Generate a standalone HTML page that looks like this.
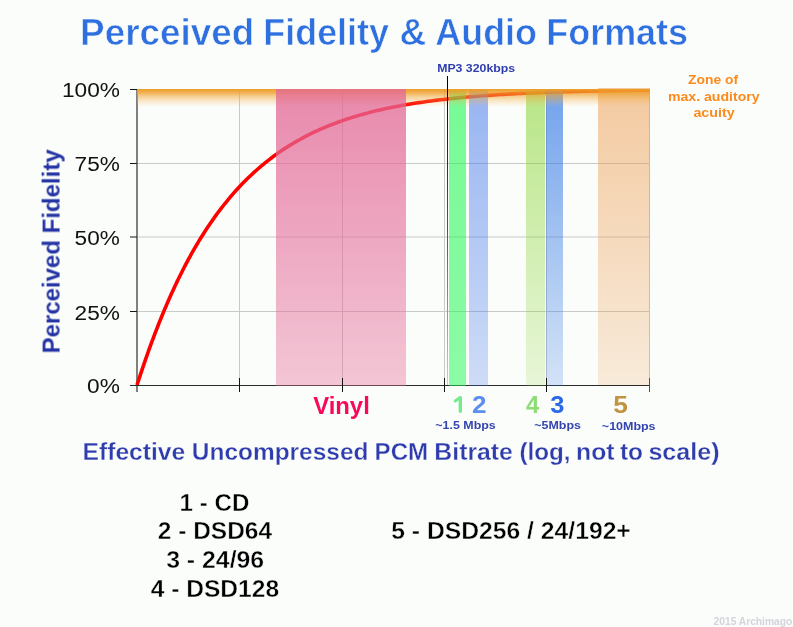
<!DOCTYPE html>
<html><head><meta charset="utf-8">
<style>
html,body{margin:0;padding:0;background:#fbfdfa;}
body{width:793px;height:627px;overflow:hidden;}
svg{display:block;font-family:"Liberation Sans",sans-serif;}
text{will-change:transform;}
</style></head>
<body>
<svg width="793" height="627" viewBox="0 0 793 627">
<defs>
<linearGradient id="gOr" x1="0" y1="0" x2="0" y2="1">
<stop offset="0" stop-color="#ee9e28" stop-opacity="1"/>
<stop offset="0.2" stop-color="#ee9e28" stop-opacity="0.8"/>
<stop offset="0.4" stop-color="#f0a634" stop-opacity="0.55"/>
<stop offset="0.65" stop-color="#f2ae44" stop-opacity="0.3"/>
<stop offset="0.9" stop-color="#f4b860" stop-opacity="0.08"/>
<stop offset="1" stop-color="#f4b860" stop-opacity="0"/>
</linearGradient>
<linearGradient id="gPink" x1="0" y1="0" x2="0" y2="1">
<stop offset="0" stop-color="#e36896" stop-opacity="0.78"/>
<stop offset="1" stop-color="#e56b99" stop-opacity="0.38"/>
</linearGradient>
<linearGradient id="gG1" x1="0" y1="0" x2="0" y2="1">
<stop offset="0" stop-color="#1ef852" stop-opacity="0.6"/>
<stop offset="1" stop-color="#1ef852" stop-opacity="0.5"/>
</linearGradient>
<linearGradient id="gB2" x1="0" y1="0" x2="0" y2="1">
<stop offset="0" stop-color="#4678eb" stop-opacity="0.55"/>
<stop offset="1" stop-color="#4678eb" stop-opacity="0.25"/>
</linearGradient>
<linearGradient id="gG4" x1="0" y1="0" x2="0" y2="1">
<stop offset="0" stop-color="#82d228" stop-opacity="0.55"/>
<stop offset="1" stop-color="#82d228" stop-opacity="0.16"/>
</linearGradient>
<linearGradient id="gB3" x1="0" y1="0" x2="0" y2="1">
<stop offset="0" stop-color="#3278e6" stop-opacity="0.68"/>
<stop offset="1" stop-color="#3278e6" stop-opacity="0.2"/>
</linearGradient>
<linearGradient id="gO5" x1="0" y1="0" x2="0" y2="1">
<stop offset="0" stop-color="#eb9646" stop-opacity="0.5"/>
<stop offset="1" stop-color="#eb9646" stop-opacity="0.18"/>
</linearGradient>
<linearGradient id="gMP3" x1="0" y1="0" x2="0" y2="1">
<stop offset="0" stop-color="#000"/>
<stop offset="0.5" stop-color="#555"/>
<stop offset="1" stop-color="#ccc"/>
</linearGradient>
<clipPath id="cpC"><rect x="130" y="89" width="530" height="310"/></clipPath>
</defs>
<rect x="0" y="0" width="793" height="627" fill="#fbfdfa"/>
<g stroke="#c9c9c9" stroke-width="1">
<line x1="137" y1="163.5" x2="650" y2="163.5"/>
<line x1="137" y1="237" x2="650" y2="237"/>
<line x1="137" y1="311.5" x2="650" y2="311.5"/>
<line x1="239.5" y1="89" x2="239.5" y2="385"/>
<line x1="342.5" y1="89" x2="342.5" y2="385"/>
<line x1="444.5" y1="89" x2="444.5" y2="385"/>
<line x1="546.5" y1="89" x2="546.5" y2="385"/>
<line x1="649.5" y1="89" x2="649.5" y2="385"/>
</g>
<line x1="137" y1="89" x2="137" y2="392" stroke="#808080" stroke-width="2"/>
<path d="M137.0,385.00 L138.0,381.96 L139.0,378.91 L140.0,375.88 L141.0,372.86 L142.0,369.88 L143.0,366.91 L144.0,363.98 L145.0,361.07 L146.0,358.19 L147.0,355.33 L148.0,352.50 L149.0,349.70 L150.0,346.93 L151.0,344.19 L152.0,341.47 L153.0,338.78 L154.0,336.11 L155.0,333.48 L156.0,330.87 L157.0,328.28 L158.0,325.73 L159.0,323.19 L160.0,320.69 L161.0,318.21 L162.0,315.76 L163.0,313.33 L164.0,310.92 L165.0,308.54 L166.0,306.19 L167.0,303.86 L168.0,301.56 L169.0,299.27 L170.0,297.02 L171.0,294.78 L172.0,292.57 L173.0,290.38 L174.0,288.22 L175.0,286.08 L176.0,283.96 L177.0,281.86 L178.0,279.79 L179.0,277.73 L180.0,275.70 L181.0,273.69 L182.0,271.70 L183.0,269.73 L184.0,267.79 L185.0,265.86 L186.0,263.95 L187.0,262.07 L188.0,260.20 L189.0,258.35 L190.0,256.53 L191.0,254.72 L192.0,252.93 L193.0,251.16 L194.0,249.41 L195.0,247.68 L196.0,245.97 L197.0,244.27 L198.0,242.59 L199.0,240.93 L200.0,239.29 L203.0,234.47 L206.0,229.80 L209.0,225.28 L212.0,220.90 L215.0,216.66 L218.0,212.56 L221.0,208.59 L224.0,204.74 L227.0,201.02 L230.0,197.41 L233.0,193.92 L236.0,190.54 L239.0,187.27 L242.0,184.10 L245.0,181.03 L248.0,178.07 L251.0,175.19 L254.0,172.41 L257.0,169.72 L260.0,167.11 L263.0,164.59 L266.0,162.15 L269.0,159.79 L272.0,157.50 L275.0,155.29 L278.0,153.14 L281.0,151.07 L284.0,149.06 L287.0,147.12 L290.0,145.24 L293.0,143.42 L296.0,141.66 L299.0,139.96 L302.0,138.31 L305.0,136.71 L308.0,135.16 L311.0,133.67 L314.0,132.22 L317.0,130.82 L320.0,129.47 L323.0,128.15 L326.0,126.88 L329.0,125.66 L332.0,124.47 L335.0,123.32 L338.0,122.20 L341.0,121.13 L344.0,120.08 L347.0,119.08 L350.0,118.10 L353.0,117.15 L356.0,116.24 L359.0,115.36 L362.0,114.50 L365.0,113.67 L368.0,112.87 L371.0,112.10 L374.0,111.34 L377.0,110.62 L380.0,109.92 L383.0,109.24 L386.0,108.58 L389.0,107.94 L392.0,107.33 L395.0,106.73 L398.0,106.15 L401.0,105.60 L404.0,105.06 L407.0,104.53 L410.0,104.03 L413.0,103.54 L416.0,103.07 L419.0,102.61 L422.0,102.16 L425.0,101.74 L428.0,101.32 L431.0,100.92 L434.0,100.53 L437.0,100.16 L440.0,99.79 L443.0,99.44 L446.0,99.10 L449.0,98.77 L452.0,98.45 L455.0,98.15 L458.0,97.85 L461.0,97.56 L464.0,97.28 L467.0,97.01 L470.0,96.75 L473.0,96.50 L476.0,96.25 L479.0,96.02 L482.0,95.79 L485.0,95.57 L488.0,95.35 L491.0,95.14 L494.0,94.94 L497.0,94.75 L500.0,94.56 L503.0,94.38 L506.0,94.21 L509.0,94.04 L512.0,93.87 L515.0,93.71 L518.0,93.56 L521.0,93.41 L524.0,93.27 L527.0,93.13 L530.0,92.99 L533.0,92.86 L536.0,92.74 L539.0,92.61 L542.0,92.50 L545.0,92.38 L548.0,92.27 L551.0,92.16 L554.0,92.06 L557.0,91.96 L560.0,91.86 L563.0,91.77 L566.0,91.68 L569.0,91.59 L572.0,91.51 L575.0,91.43 L578.0,91.35 L581.0,91.27 L584.0,91.19 L587.0,91.12 L590.0,91.05 L593.0,90.99 L596.0,90.92 L599.0,90.86 L602.0,90.80 L605.0,90.74 L608.0,90.68 L611.0,90.63 L614.0,90.57 L617.0,90.52 L620.0,90.47 L623.0,90.42 L626.0,90.38 L629.0,90.33 L632.0,90.29 L635.0,90.25 L638.0,90.21 L641.0,90.17 L644.0,90.13 L647.0,90.09 L649.7,90.06" fill="none" stroke="#ff0000" stroke-width="3.6" clip-path="url(#cpC)" stroke-linejoin="round"/>
<line x1="130" y1="385.5" x2="650" y2="385.5" stroke="#2a2a2a" stroke-width="1"/>
<rect x="449" y="89" width="17" height="297" fill="url(#gG1)"/>
<rect x="469" y="89" width="19" height="297" fill="url(#gB2)"/>
<rect x="526" y="89" width="19" height="297" fill="url(#gG4)"/>
<rect x="546" y="89" width="17" height="297" fill="url(#gB3)"/>
<rect x="598" y="88" width="52" height="297" fill="url(#gO5)"/>
<rect x="137" y="89" width="513" height="18" fill="url(#gOr)"/>
<rect x="276" y="89" width="130" height="297" fill="url(#gPink)"/>
<rect x="447" y="76" width="1" height="309" fill="url(#gMP3)"/>
<g stroke="#141414" stroke-width="1">
<line x1="130" y1="89.5" x2="137" y2="89.5"/>
<line x1="130" y1="163.5" x2="137" y2="163.5"/>
<line x1="130" y1="237" x2="137" y2="237"/>
<line x1="130" y1="311.5" x2="137" y2="311.5"/>
<line x1="239.5" y1="378" x2="239.5" y2="392"/>
<line x1="342.5" y1="378" x2="342.5" y2="392"/>
<line x1="444.5" y1="378" x2="444.5" y2="392"/>
<line x1="546.5" y1="378" x2="546.5" y2="392"/>
<line x1="649.5" y1="378" x2="649.5" y2="392" stroke="#505050"/>
</g>
<g fill="none" stroke="#78ea8e" stroke-linecap="round"><path d="M460.3,397.6 V411.3" stroke-width="3.4"/><path d="M459.8,397.7 L455.2,400.9" stroke-width="3.1"/></g>
<text transform="translate(59.6,353.4) rotate(-90)" font-size="24.2" font-weight="bold" fill="#2434a4" textLength="204" lengthAdjust="spacingAndGlyphs">Perceived Fidelity</text>

<text x="80.12" y="45.10" font-size="37.00" font-weight="bold" fill="#2e70e0" stroke="#fbfdfa" stroke-width="0.6" paint-order="fill" textLength="174.13" lengthAdjust="spacingAndGlyphs">Perceived</text>
<text x="263.35" y="45.10" font-size="37.00" font-weight="bold" fill="#2e70e0" stroke="#fbfdfa" stroke-width="0.6" paint-order="fill" textLength="125.64" lengthAdjust="spacingAndGlyphs">Fidelity</text>
<text x="399.60" y="45.10" font-size="37.00" font-weight="bold" fill="#2e70e0" stroke="#fbfdfa" stroke-width="0.6" paint-order="fill" textLength="26.74" lengthAdjust="spacingAndGlyphs">&amp;</text>
<text x="435.34" y="45.10" font-size="37.00" font-weight="bold" fill="#2e70e0" stroke="#fbfdfa" stroke-width="0.6" paint-order="fill" textLength="101.67" lengthAdjust="spacingAndGlyphs">Audio</text>
<text x="546.23" y="45.10" font-size="37.00" font-weight="bold" fill="#2e70e0" stroke="#fbfdfa" stroke-width="0.6" paint-order="fill" textLength="141.84" lengthAdjust="spacingAndGlyphs">Formats</text>
<text x="61.92" y="96.86" font-size="19.50" font-weight="normal" fill="#111" textLength="58.07" lengthAdjust="spacingAndGlyphs">100%</text>
<text x="74.64" y="170.92" font-size="19.50" font-weight="normal" fill="#111" textLength="45.30" lengthAdjust="spacingAndGlyphs">75%</text>
<text x="74.59" y="244.64" font-size="19.50" font-weight="normal" fill="#111" textLength="45.22" lengthAdjust="spacingAndGlyphs">50%</text>
<text x="74.60" y="319.84" font-size="19.50" font-weight="normal" fill="#111" textLength="45.35" lengthAdjust="spacingAndGlyphs">25%</text>
<text x="87.10" y="392.70" font-size="19.50" font-weight="normal" fill="#111" textLength="32.81" lengthAdjust="spacingAndGlyphs">0%</text>
<text x="437.15" y="71.51" font-size="11.28" font-weight="bold" fill="#2f3dae" textLength="78.00" lengthAdjust="spacingAndGlyphs">MP3 320kbps</text>
<text x="688.02" y="83.80" font-size="12.90" font-weight="bold" fill="#fd8a1c" textLength="50.02" lengthAdjust="spacingAndGlyphs">Zone of</text>
<text x="667.93" y="100.70" font-size="12.90" font-weight="bold" fill="#fd8a1c" textLength="91.74" lengthAdjust="spacingAndGlyphs">max. auditory</text>
<text x="693.42" y="117.20" font-size="12.90" font-weight="bold" fill="#fd8a1c" textLength="41.27" lengthAdjust="spacingAndGlyphs">acuity</text>
<text x="313.18" y="414.00" font-size="24.50" font-weight="bold" fill="#f70a5c" textLength="56.61" lengthAdjust="spacingAndGlyphs">Vinyl</text>
<text x="472.09" y="413.00" font-size="24.50" font-weight="bold" fill="#5a8ff0" textLength="14.53" lengthAdjust="spacingAndGlyphs">2</text>
<text x="525.96" y="413.00" font-size="24.50" font-weight="bold" fill="#8ddc76" textLength="13.24" lengthAdjust="spacingAndGlyphs">4</text>
<text x="550.25" y="413.00" font-size="24.50" font-weight="bold" fill="#2a6ae8" textLength="14.17" lengthAdjust="spacingAndGlyphs">3</text>
<text x="613.33" y="413.00" font-size="24.50" font-weight="bold" fill="#c49342" textLength="14.68" lengthAdjust="spacingAndGlyphs">5</text>
<text x="435.36" y="429.16" font-size="10.20" font-weight="bold" fill="#3545b0" textLength="60.33" lengthAdjust="spacingAndGlyphs">~1.5 Mbps</text>
<text x="534.23" y="429.40" font-size="10.20" font-weight="bold" fill="#3545b0" textLength="46.70" lengthAdjust="spacingAndGlyphs">~5Mbps</text>
<text x="601.85" y="430.46" font-size="10.20" font-weight="bold" fill="#3545b0" textLength="53.73" lengthAdjust="spacingAndGlyphs">~10Mbps</text>
<text x="82.59" y="459.97" font-size="24.71" font-weight="bold" fill="#2e3cae" stroke="#fbfdfa" stroke-width="0.3" paint-order="fill" textLength="102.64" lengthAdjust="spacingAndGlyphs">Effective</text>
<text x="191.83" y="459.97" font-size="24.71" font-weight="bold" fill="#2e3cae" stroke="#fbfdfa" stroke-width="0.3" paint-order="fill" textLength="176.62" lengthAdjust="spacingAndGlyphs">Uncompressed</text>
<text x="374.61" y="459.97" font-size="24.71" font-weight="bold" fill="#2e3cae" stroke="#fbfdfa" stroke-width="0.3" paint-order="fill" textLength="53.60" lengthAdjust="spacingAndGlyphs">PCM</text>
<text x="434.36" y="459.97" font-size="24.71" font-weight="bold" fill="#2e3cae" stroke="#fbfdfa" stroke-width="0.3" paint-order="fill" textLength="78.47" lengthAdjust="spacingAndGlyphs">Bitrate</text>
<text x="519.49" y="459.97" font-size="24.71" font-weight="bold" fill="#2e3cae" stroke="#fbfdfa" stroke-width="0.3" paint-order="fill" textLength="51.11" lengthAdjust="spacingAndGlyphs">(log,</text>
<text x="576.09" y="459.97" font-size="24.71" font-weight="bold" fill="#2e3cae" stroke="#fbfdfa" stroke-width="0.3" paint-order="fill" textLength="38.34" lengthAdjust="spacingAndGlyphs">not</text>
<text x="619.93" y="459.97" font-size="24.71" font-weight="bold" fill="#2e3cae" stroke="#fbfdfa" stroke-width="0.3" paint-order="fill" textLength="23.13" lengthAdjust="spacingAndGlyphs">to</text>
<text x="648.42" y="459.97" font-size="24.71" font-weight="bold" fill="#2e3cae" stroke="#fbfdfa" stroke-width="0.3" paint-order="fill" textLength="71.16" lengthAdjust="spacingAndGlyphs">scale)</text>
<text x="179.59" y="511.00" font-size="24.00" font-weight="bold" fill="#000" stroke="#fbfdfa" stroke-width="0.4" paint-order="fill" textLength="69.78" lengthAdjust="spacingAndGlyphs">1 - CD</text>
<text x="157.83" y="539.20" font-size="24.00" font-weight="bold" fill="#000" stroke="#fbfdfa" stroke-width="0.4" paint-order="fill" textLength="114.21" lengthAdjust="spacingAndGlyphs">2 - DSD64</text>
<text x="166.17" y="568.00" font-size="24.00" font-weight="bold" fill="#000" stroke="#fbfdfa" stroke-width="0.4" paint-order="fill" textLength="98.02" lengthAdjust="spacingAndGlyphs">3 - 24/96</text>
<text x="150.65" y="596.70" font-size="24.00" font-weight="bold" fill="#000" stroke="#fbfdfa" stroke-width="0.4" paint-order="fill" textLength="128.45" lengthAdjust="spacingAndGlyphs">4 - DSD128</text>
<text x="391.23" y="539.00" font-size="24.00" font-weight="bold" fill="#000" stroke="#fbfdfa" stroke-width="0.4" paint-order="fill" textLength="239.59" lengthAdjust="spacingAndGlyphs">5 - DSD256 / 24/192+</text>
<text x="713.57" y="625.12" font-size="10.40" font-weight="bold" fill="#d4d4dc" textLength="78.71" lengthAdjust="spacingAndGlyphs">2015 Archimago</text>
</svg>
</body></html>
